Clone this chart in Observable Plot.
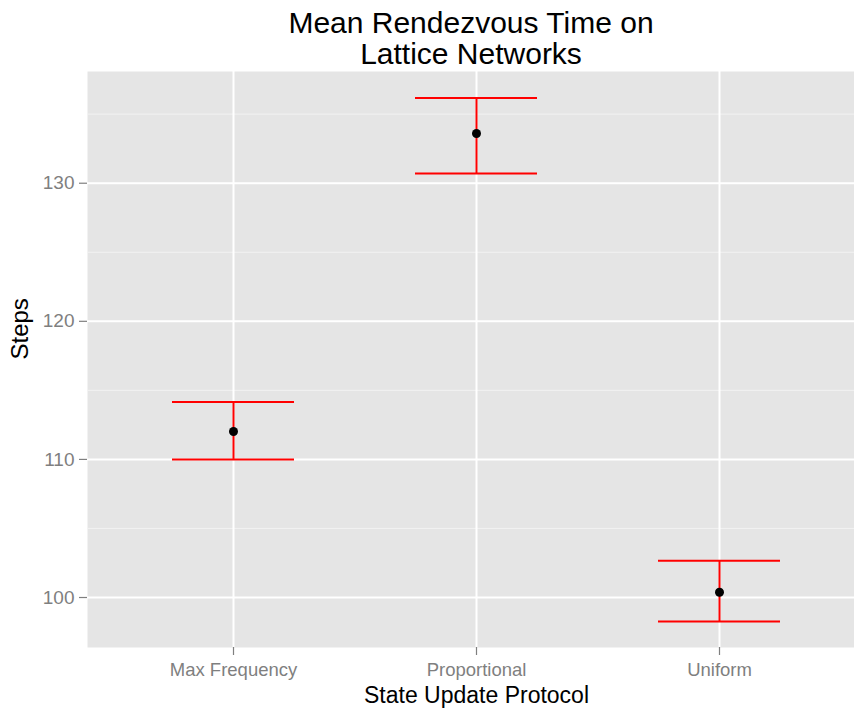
<!DOCTYPE html>
<html>
<head>
<meta charset="utf-8">
<script src="https://cdn.jsdelivr.net/npm/d3@7"></script>
<script src="https://cdn.jsdelivr.net/npm/@observablehq/plot@0.6"></script>
<style>
  html, body { margin: 0; padding: 0; background: #fff; }
  #title {
    width: 854px; height: 71px; box-sizing: border-box; padding-top: 7px;
    font-family: "Liberation Sans", Arial, sans-serif; font-size: 30px; line-height: 31px;
    color: #000; padding-left: 88px; overflow: hidden;
  }
  #title div { width: 766px; text-align: center; }
  svg { display: block; }
</style>
</head>
<body>
<div id="title"><div>Mean Rendezvous Time on</div><div>Lattice Networks</div></div>
<div id="chart"></div>
<script>
const protocols = ["Max Frequency", "Proportional", "Uniform"];
const meanSteps = [112.02, 133.60, 100.38];
const lowerSteps = [110.00, 130.70, 98.26];
const upperSteps = [114.16, 136.18, 102.66];
const yTicks = [100, 110, 120, 130];
const yMinorTicks = [105, 115, 125, 135];

const data = protocols.map((p, i) => ({protocol: p, mean: meanSteps[i], lo: lowerSteps[i], hi: upperSteps[i]}));

const font = "'Liberation Sans', Arial, sans-serif";

const chart = Plot.plot({
  width: 854,
  height: 637,
  marginTop: 0,
  marginLeft: 87,
  marginRight: 0,
  marginBottom: 61,
  style: {fontFamily: font, background: "#fff"},
  x: {type: "band", domain: protocols, range: [87, 865], paddingInner: 0.5, paddingOuter: 0.35, label: null},
  y: {domain: [96.38, 138.09], label: null},
  marks: [
    Plot.frame({fill: "#E5E5E5", stroke: null}),
    Plot.gridY(yMinorTicks, {stroke: "#F2F2F2", strokeOpacity: 1, strokeWidth: 1}),
    Plot.gridY(yTicks, {stroke: "#FFFFFF", strokeOpacity: 1, strokeWidth: 2}),
    Plot.gridX(protocols, {stroke: "#FFFFFF", strokeOpacity: 1, strokeWidth: 2}),
    Plot.axisY(yTicks, {tickSize: 8, tickPadding: 5, fontSize: 19, color: "#7F7F7F", label: null, strokeWidth: 1.2}),
    Plot.axisX(protocols, {tickSize: 8, tickPadding: 7, fontSize: 18.5, color: "#7F7F7F", label: null, strokeWidth: 1.2}),
    Plot.ruleX(data, {x: "protocol", y1: "lo", y2: "hi", stroke: "#FF0000", strokeWidth: 2}),
    Plot.tickY(data, {x: "protocol", y: "lo", stroke: "#FF0000", strokeWidth: 2}),
    Plot.tickY(data, {x: "protocol", y: "hi", stroke: "#FF0000", strokeWidth: 2}),
    Plot.dot(data, {x: "protocol", y: "mean", r: 4.5, fill: "#000000", stroke: null}),
    Plot.text(["Steps"], {frameAnchor: "left", rotate: -90, dx: -67, fontSize: 24, fill: "#000"}),
    Plot.text(["State Update Protocol"], {frameAnchor: "bottom", dx: 5.5, dy: 55, fontSize: 23, fill: "#000"})
  ]
});
document.getElementById("chart").appendChild(chart);
</script>
</body>
</html>
